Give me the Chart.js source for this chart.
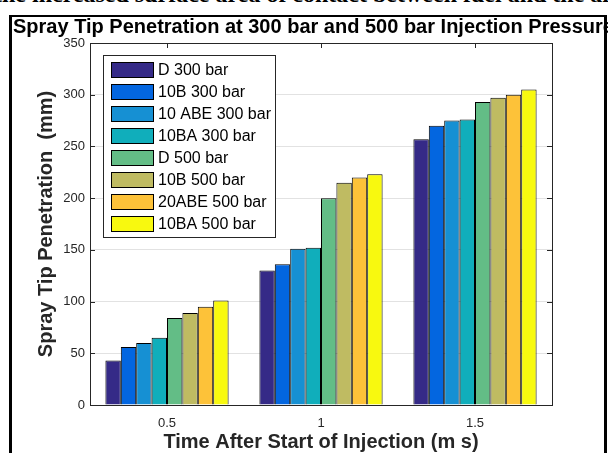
<!DOCTYPE html>
<html>
<head>
<meta charset="utf-8">
<script src="https://cdn.jsdelivr.net/npm/chart.js@4/dist/chart.umd.min.js"></script>
<style>
  html, body { margin: 0; padding: 0; width: 608px; height: 453px; overflow: hidden; background: #fff; }
  #wrap { position: relative; width: 608px; height: 453px; overflow: hidden; }
  #c { position: absolute; left: 0; top: 0; }
  .doc { position: absolute; white-space: nowrap; color: #000; }
  #docline { left: -6px; top: -18px; font: bold 24px/24px "Liberation Serif", "Times New Roman", serif; }
  #title { left: 13px; top: 16px; font: bold 20px/20px "Liberation Sans", Arial, sans-serif; }
  .bar { position: absolute; background: #000; }
</style>
</head>
<body>
<div id="wrap">
  <div class="doc" id="docline">the increased surface area of contact between fuel and the air</div>
  <canvas id="c" width="608" height="453"></canvas>
  <div class="doc" id="title">Spray Tip Penetration at 300 bar and 500 bar Injection Pressure</div>
  <div class="bar" style="left:9px; top:15px; width:3px; height:440px;"></div>
  <div class="bar" style="left:9px; top:15px; width:598px; height:2px;"></div>
  <div class="bar" style="left:604px; top:15px; width:3px; height:440px;"></div>
</div>
<script>
// ---- data ----
const categories = ['0.5', '1', '1.5'];
const seriesLabels = ['D 300 bar', '10B 300 bar', '10 ABE 300 bar', '10BA 300 bar', 'D 500 bar', '10B 500 bar', '20ABE 500 bar', '10BA 500 bar'];
const D300     = [43, 130, 257];
const B10_300  = [56, 136, 270];
const ABE10_300 = [60, 151, 275];
const BA10_300 = [65, 152, 276];
const D500     = [84, 200, 293];
const B10_500  = [89, 215, 297];
const ABE20_500 = [95, 220, 300];
const BA10_500 = [101, 223, 305];
const yTicks = [0, 50, 100, 150, 200, 250, 300, 350];

const seriesValues = [D300, B10_300, ABE10_300, BA10_300, D500, B10_500, ABE20_500, BA10_500];
const seriesColors = ['#352a87', '#0366e0', '#1690d3', '#10aebb', '#63bd86', '#bfbb62', '#fdc239', '#f8f90f'];

const AX = '#262626';

const boxPlugin = {
  id: 'matlabBox',
  afterDatasetsDraw(chart) {
    const ctx = chart.ctx;
    const a = chart.chartArea;
    const xs = chart.scales.x, ys = chart.scales.y;
    ctx.save();
    ctx.strokeStyle = AX;
    ctx.lineWidth = 1;
    ctx.beginPath();
    ctx.moveTo(a.left, Math.round(a.top) + 0.5);
    ctx.lineTo(a.right, Math.round(a.top) + 0.5);
    ctx.moveTo(Math.round(a.right) + 0.5, a.top);
    ctx.lineTo(Math.round(a.right) + 0.5, a.bottom);
    yTicks.forEach(v => {
      const y = Math.round(ys.getPixelForValue(v)) + 0.5;
      ctx.moveTo(a.left, y); ctx.lineTo(a.left + 5, y);
      ctx.moveTo(a.right, y); ctx.lineTo(a.right - 5, y);
    });
    categories.forEach((c, i) => {
      const x = Math.round(xs.getPixelForTick(i)) + 0.5;
      ctx.moveTo(x, a.top); ctx.lineTo(x, a.top + 5);
    });
    ctx.stroke();

    // legend inside plot
    const lx = a.left + 13, ly = a.top + 12;
    const lw = 172, pitch = 22;
    const lh = pitch * chart.data.datasets.length + 6;
    ctx.fillStyle = '#fff';
    ctx.fillRect(lx, ly, lw, lh);
    ctx.strokeStyle = AX;
    ctx.strokeRect(lx + 0.5, ly + 0.5, lw, lh);
    ctx.font = '16px "Liberation Sans", Arial, sans-serif';
    ctx.textBaseline = 'middle';
    ctx.textAlign = 'left';
    chart.data.datasets.forEach((ds, i) => {
      const sy = ly + 7 + i * pitch;
      ctx.fillStyle = ds.backgroundColor;
      ctx.fillRect(lx + 8, sy, 43, 16);
      ctx.strokeStyle = '#000';
      ctx.strokeRect(lx + 8.5, sy + 0.5, 42, 15);
      ctx.fillStyle = '#000';
      ctx.fillText(ds.label, lx + 55, sy + 9);
    });
    ctx.restore();
  }
};

new Chart(document.getElementById('c'), {
  type: 'bar',
  data: {
    labels: categories,
    datasets: seriesLabels.map((lab, i) => ({
      label: lab,
      data: seriesValues[i],
      backgroundColor: seriesColors[i],
      borderColor: '#000',
      borderWidth: 1,
      borderSkipped: 'start'
    }))
  },
  options: {
    responsive: false,
    devicePixelRatio: 1,
    animation: false,
    layout: { padding: { left: 0, right: 56, top: 43, bottom: 0 } },
    datasets: { bar: { categoryPercentage: 0.8, barPercentage: 1.0 } },
    plugins: { legend: { display: false }, title: { display: false }, tooltip: { enabled: false } },
    scales: {
      x: {
        type: 'category',
        grid: { color: 'rgba(0,0,0,0)', drawTicks: false },
        border: { display: true, color: AX, width: 1 },
        ticks: { color: AX, font: { size: 13, family: '"Liberation Sans", Arial, sans-serif' }, padding: 11 },
        title: { display: true, text: 'Time After Start of Injection (m s)', color: AX,
                 font: { size: 20, weight: 'bold', lineHeight: 1.0, family: '"Liberation Sans", Arial, sans-serif' },
                 padding: { top: 0, bottom: 1 } },
        afterFit(s) { s.height = 48; }
      },
      y: {
        min: 0, max: 350,
        afterBuildTicks(s) { s.ticks = yTicks.map(v => ({ value: v })); },
        grid: { color: '#e2e2e2', drawTicks: false, lineWidth: 1 },
        border: { display: true, color: AX, width: 1 },
        ticks: { color: AX, font: { size: 13, family: '"Liberation Sans", Arial, sans-serif' }, padding: 5 },
        title: { display: true, text: 'Spray Tip Penetration  (mm)', color: AX,
                 font: { size: 20, weight: 'bold', family: '"Liberation Sans", Arial, sans-serif' },
                 padding: { top: 34, bottom: 0 } },
        afterFit(s) { s.width = 90; }
      }
    }
  },
  plugins: [boxPlugin]
});
</script>
</body>
</html>
